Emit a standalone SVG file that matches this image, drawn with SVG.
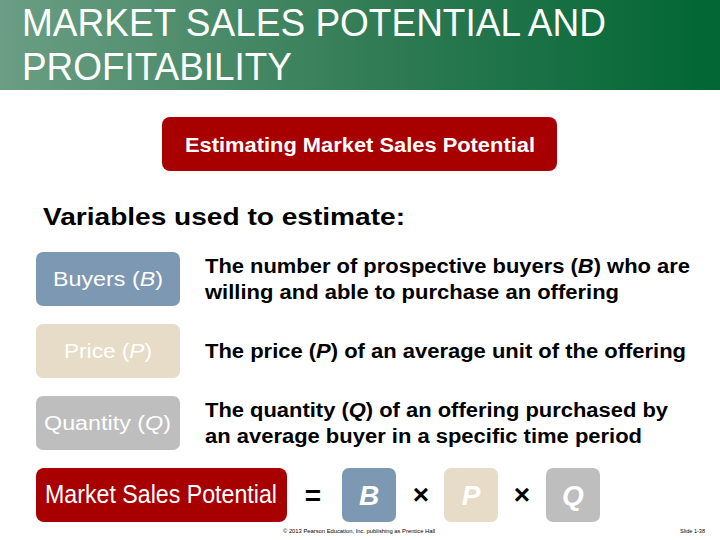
<svg xmlns="http://www.w3.org/2000/svg" width="720" height="540" viewBox="0 0 720 540">
<defs>
<linearGradient id="hdr" x1="0" y1="0" x2="1" y2="0">
<stop offset="0" stop-color="#6B9E84"/>
<stop offset="0.55" stop-color="#2E7A52"/>
<stop offset="1" stop-color="#006633"/>
</linearGradient>
</defs>
<style>
text{font-family:"Liberation Sans",Arial,sans-serif}
.title{fill:#fff;font-size:38px}
.red{fill:#A80000}
.blue{fill:#7D98B3}
.beige{fill:#E6DCC8}
.gray{fill:#BEBEBE}
.lbl{fill:#fff;font-size:20px}
.desc{fill:#000;font-size:19.5px;font-weight:bold}
.op{fill:#000;font-size:28px;font-weight:bold;text-anchor:middle}
.big{fill:#fff;font-size:28px;font-weight:bold;font-style:italic;text-anchor:middle}
.foot{fill:#000;font-size:6px}
</style>
<rect width="720" height="540" fill="#fff"/>
<g id="header">
<rect x="0" y="0" width="720" height="90" fill="url(#hdr)"/>
<text class="title" x="22" y="36" textLength="584" lengthAdjust="spacingAndGlyphs">MARKET SALES POTENTIAL AND</text>
<text class="title" x="22" y="80" textLength="270" lengthAdjust="spacingAndGlyphs">PROFITABILITY</text>
</g>
<g id="estimating">
<rect class="red" x="162" y="117" width="395" height="54" rx="8"/>
<text x="185" y="152" fill="#fff" font-size="20" font-weight="bold" textLength="350" lengthAdjust="spacingAndGlyphs">Estimating Market Sales Potential</text>
</g>
<text x="43" y="225" font-size="24" font-weight="bold" fill="#000" textLength="362" lengthAdjust="spacingAndGlyphs">Variables used to estimate:</text>
<g id="buyers">
<rect class="blue" x="36" y="252" width="144" height="54" rx="7"/>
<text class="lbl" x="53" y="286" textLength="110" lengthAdjust="spacingAndGlyphs">Buyers (<tspan font-style="italic">B</tspan>)</text>
</g>
<g id="price">
<rect class="beige" x="36" y="324" width="144" height="54" rx="7"/>
<text class="lbl" x="64" y="358" textLength="88" lengthAdjust="spacingAndGlyphs">Price (<tspan font-style="italic">P</tspan>)</text>
</g>
<g id="quantity">
<rect class="gray" x="36" y="396" width="144" height="54" rx="7"/>
<text class="lbl" x="44" y="430" textLength="127" lengthAdjust="spacingAndGlyphs">Quantity (<tspan font-style="italic">Q</tspan>)</text>
</g>
<g id="descriptions">
<text class="desc" x="205" y="273" textLength="485" lengthAdjust="spacingAndGlyphs">The number of prospective buyers (<tspan font-style="italic">B</tspan>) who are</text>
<text class="desc" x="205" y="299" textLength="414" lengthAdjust="spacingAndGlyphs">willing and able to purchase an offering</text>
<text class="desc" x="205" y="358" textLength="481" lengthAdjust="spacingAndGlyphs">The price (<tspan font-style="italic">P</tspan>) of an average unit of the offering</text>
<text class="desc" x="205" y="417" textLength="463" lengthAdjust="spacingAndGlyphs">The quantity (<tspan font-style="italic">Q</tspan>) of an offering purchased by</text>
<text class="desc" x="205" y="443" textLength="437" lengthAdjust="spacingAndGlyphs">an average buyer in a specific time period</text>
</g>
<g id="msp">
<rect class="red" x="36" y="468" width="251" height="54" rx="8"/>
<text x="45" y="503" fill="#fff" font-size="25" textLength="232" lengthAdjust="spacingAndGlyphs">Market Sales Potential</text>
</g>
<g id="operators">
<text class="op" x="313" y="505">=</text>
<text class="op" x="421" y="504">×</text>
<text class="op" x="522" y="504">×</text>
</g>
<g id="B">
<rect class="blue" x="342" y="468" width="54" height="54" rx="7"/>
<text class="big" x="369" y="505">B</text>
</g>
<g id="P">
<rect class="beige" x="444" y="468" width="54" height="54" rx="7"/>
<text class="big" x="471" y="505">P</text>
</g>
<g id="Q">
<rect class="gray" x="546" y="468" width="54" height="54" rx="7"/>
<text class="big" x="573" y="505">Q</text>
</g>
<g id="footer">
<text class="foot" x="283" y="533" textLength="152" lengthAdjust="spacingAndGlyphs">© 2013 Pearson Education, Inc. publishing as Prentice Hall</text>
<text class="foot" x="680" y="533" textLength="25" lengthAdjust="spacingAndGlyphs">Slide 1-38</text>
</g>
</svg>
